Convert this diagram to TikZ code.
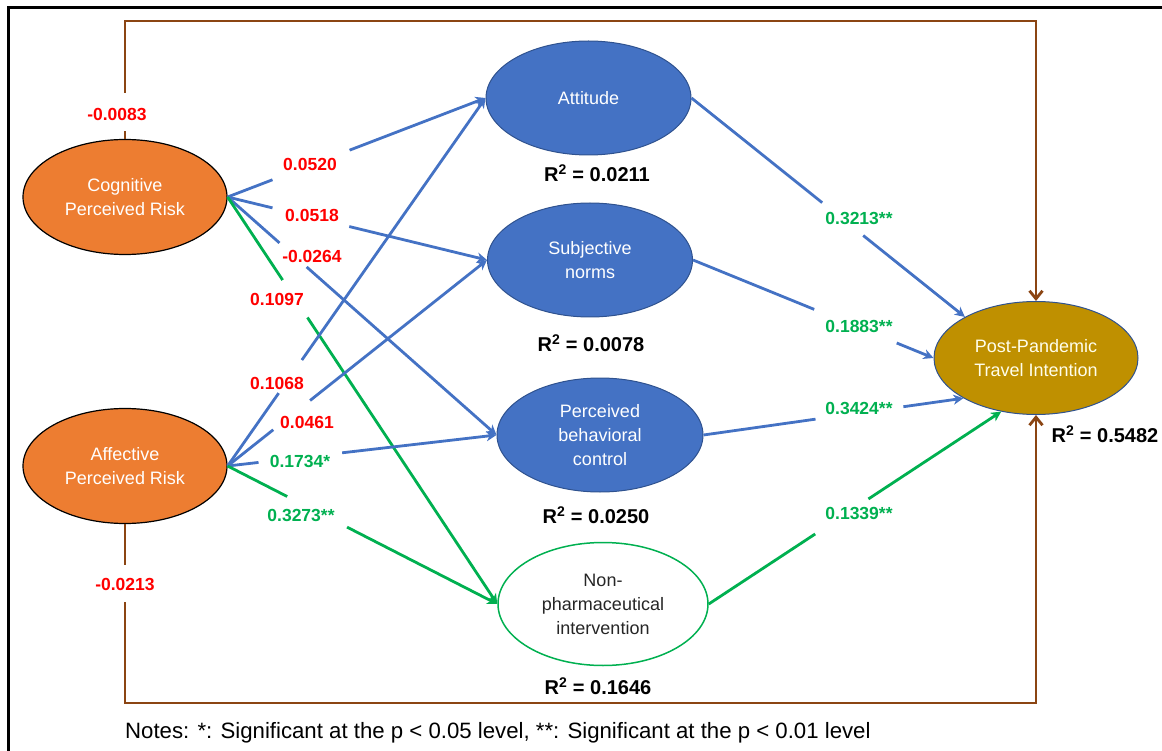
\documentclass[tikz,border=0pt]{standalone}
\usepackage{fontspec}
\setmainfont{Liberation Sans}
\usetikzlibrary{shapes.geometric,arrows.meta,calc}
\definecolor{cblue}{HTML}{4472C4}
\definecolor{cgreen}{HTML}{00B050}
\definecolor{corange}{HTML}{ED7D31}
\definecolor{cgold}{HTML}{BF9000}
\definecolor{cbrown}{HTML}{8B4513}
\definecolor{cedge}{HTML}{2F528F}
\definecolor{cred}{HTML}{FF0000}
\definecolor{cdark}{HTML}{262626}
\begin{document}
\begin{tikzpicture}[x=1pt,y=-1pt,
  lat/.style={ellipse, inner sep=0pt, align=center, text=white, font=\fontsize{18}{24}\selectfont},
  risk/.style={lat, fill=corange, draw=black, line width=1.2pt, minimum width=204pt, minimum height=115pt},
  tpb/.style={lat, fill=cblue, draw=cedge, line width=1pt, minimum width=205pt, minimum height=114pt},
  npi/.style={lat, fill=white, draw=cgreen, line width=1.5pt, text=cdark, minimum width=210pt, minimum height=123pt},
  dv/.style={lat, fill=cgold, draw=cedge, line width=1pt, text=white!92!yellow, minimum width=204pt, minimum height=113pt},
  bl/.style={cblue, line width=2.8pt},
  gl/.style={cgreen, line width=2.8pt},
  brl/.style={cbrown, line width=2.8pt},
  tip/.style={-{Stealth[length=10pt,width=10pt,inset=3pt]}},
  btip/.style={-{Straight Barb[length=8pt,width=13pt]}},
  coef/.style={inner sep=0pt, font=\bfseries\fontsize{17.5}{20}\selectfont},
  rc/.style={coef, text=cred},
  gc/.style={coef, text=cgreen},
  rsq/.style={inner sep=0pt, font=\bfseries\fontsize{20}{24}\selectfont}
]
\useasboundingbox (0,0) rectangle (1162,751);
\draw[black, line width=2.5pt] (8.3,751) -- (8.3,7.3) -- (1162,7.3);

% nodes
\node[risk] (cog) at (125,197) {Cognitive\\Perceived Risk};
\node[risk] (aff) at (125,466) {Affective\\Perceived Risk};
\node[tpb] (att) at (588.5,98) {Attitude};
\node[tpb] (subj) at (590,260) {Subjective\\norms};
\node[tpb, minimum width=206pt] (pbc) at (600,435) {Perceived\\behavioral\\control};
\node[npi] (np) at (603,604) {Non-\\pharmaceutical\\intervention};
\node[dv] (pp) at (1036,358) {Post-Pandemic\\Travel Intention};

% brown direct paths
\coordinate (tl) at (125,21);
\coordinate (bl) at (125,703);
\coordinate (tr) at (pp.north |- tl);
\coordinate (br) at (pp.south |- bl);
\draw[brl] (cog.north) -- ($(cog.north)+(0,-8)$);
\draw[brl, btip] ($(cog.north)+(0,-46)$) -- (cog.north |- tl) -- (tr) -- (pp.north);
\draw[brl] (aff.south) -- ($(aff.south)+(0,41)$);
\draw[brl, btip] ($(aff.south)+(0,78)$) -- (aff.south |- bl) -- (br) -- (pp.south);

% cognitive paths
\draw[bl] (cog.east) -- ($(cog.east)!0.174!(att.west)$);
\draw[bl, tip] ($(cog.east)!0.473!(att.west)$) -- (att.west);
\draw[bl] (cog.east) -- ($(cog.east)!0.173!(subj.west)$);
\draw[bl, tip] ($(cog.east)!0.469!(subj.west)$) -- (subj.west);
\draw[bl] (cog.east) -- ($(cog.east)!0.193!(pbc.west)$);
\draw[bl, tip] ($(cog.east)!0.294!(pbc.west)$) -- (pbc.west);
\draw[gl] (cog.east) -- ($(cog.east)!0.204!(np.west)$);
\draw[gl, tip] ($(cog.east)!0.296!(np.west)$) -- (np.west);

% affective paths
\draw[bl] (aff.east) -- ($(aff.east)!0.198!(att.west)$);
\draw[bl, tip] ($(aff.east)!0.288!(att.west)$) -- (att.west);
\draw[bl] (aff.east) -- ($(aff.east)!0.176!(subj.west)$);
\draw[bl, tip] ($(aff.east)!0.318!(subj.west)$) -- (subj.west);
\draw[bl] (aff.east) -- ($(aff.east)!0.115!(pbc.west)$);
\draw[bl, tip] ($(aff.east)!0.426!(pbc.west)$) -- (pbc.west);
\draw[gl] (aff.east) -- ($(aff.east)!0.221!(np.west)$);
\draw[gl, tip] ($(aff.east)!0.443!(np.west)$) -- (np.west);

% mediator to intention
\draw[bl] (att.east) -- ($(att.east)!0.478!(pp.150)$);
\draw[bl, tip] ($(att.east)!0.628!(pp.150)$) -- (pp.150);
\draw[bl] (subj.east) -- ($(subj.east)!0.504!(pp.west)$);
\draw[bl, tip] ($(subj.east)!0.847!(pp.west)$) -- (pp.west);
\draw[bl] (pbc.east) -- ($(pbc.east)!0.431!(pp.209)$);
\draw[bl, tip] ($(pbc.east)!0.769!(pp.209)$) -- (pp.209);
\draw[gl] (np.east) -- ($(np.east)!0.364!(pp.237)$);
\draw[gl, tip] ($(np.east)!0.546!(pp.237)$) -- (pp.237);

% coefficients
\node[rc] (c1) at (117,114) {-0.0083};
\node[rc] (c2) at (310,164) {0.0520};
\node[rc] (c3) at (312,215) {0.0518};
\node[rc] (c4) at (312,256) {-0.0264};
\node[rc] (c5) at (277,299) {0.1097};
\node[rc] (c6) at (277,383) {0.1068};
\node[rc] (c7) at (307,422) {0.0461};
\node[gc] (c8) at (300,461) {0.1734*};
\node[gc] (c9) at (301,515) {0.3273**};
\node[rc] (c10) at (125,584) {-0.0213};
\node[gc] (c11) at (859,218) {0.3213**};
\node[gc] (c12) at (859,326) {0.1883**};
\node[gc] (c13) at (859,408) {0.3424**};
\node[gc] (c14) at (859,513) {0.1339**};

% R squared
\node[rsq] (r1) at (597,173) {R\textsuperscript{2} = 0.0211};
\node[rsq] (r2) at (591,343) {R\textsuperscript{2} = 0.0078};
\node[rsq] (r3) at (596,515) {R\textsuperscript{2} = 0.0250};
\node[rsq] (r4) at (598,686) {R\textsuperscript{2} = 0.1646};
\node[rsq] (r5) at (1105,434) {R\textsuperscript{2} = 0.5482};

% notes
\node[anchor=west, inner sep=0pt, font=\fontsize{22.2}{26}\selectfont] (notes) at (125,733) {Notes: *: Significant at the p < 0.05 level, **: Significant at the p < 0.01 level};
\end{tikzpicture}
\end{document}
